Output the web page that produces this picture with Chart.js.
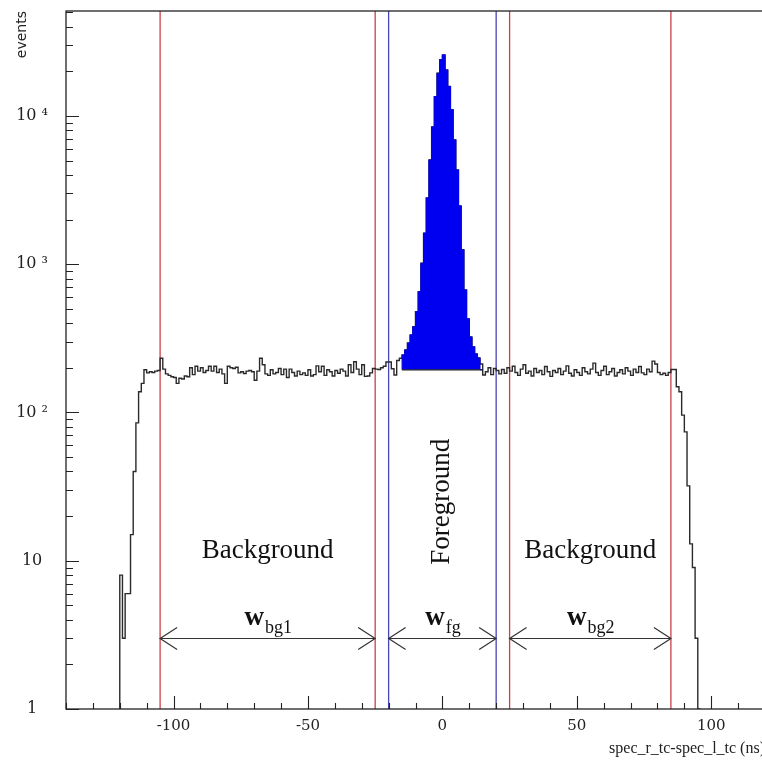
<!DOCTYPE html>
<html><head><meta charset="utf-8">
<script src="https://cdn.jsdelivr.net/npm/chart.js@4.4.1/dist/chart.umd.min.js"></script>
<style>html,body{margin:0;padding:0;background:#fff;overflow:hidden;width:762px;height:763px}canvas{display:block}</style>
</head><body>
<canvas id="c" width="770" height="763"></canvas>
<script>
// ---- data ----
const binStart = -120;   // ns, low edge of first bin
const binWidth = 1;      // ns
const counts = [
  3, 8, 3, 6, 6, 15, 40, 85, 138, 157, 194,
  185, 188, 186, 190, 192,
  232, 196, 182, 178, 174, 172, 157, 170, 168, 176,
  174, 200, 180, 205, 190, 200, 186, 192, 205, 190,
  205, 186, 196, 182, 157, 205, 200, 198, 202, 185,
  188, 183, 190, 192, 188, 165, 190, 232, 210, 182,
  178, 194, 182, 186, 198, 180, 196, 172, 196, 186,
  176, 190, 180, 185, 178, 194, 176, 180, 206, 188,
  205, 178, 194, 188, 176, 192, 184, 196, 190, 176,
  210, 186, 220, 196, 180, 210, 175, 176, 185, 198,
  196, 195, 200, 205, 219, 219, 197, 179, 224,
  232, 244, 264, 294, 333, 379, 479, 653, 1015, 1620,
  2800, 5050, 8430, 13500, 19400, 23900, 25800, 20400, 15800, 11000,
  6890, 4320, 2470, 1250, 670, 428, 323, 277, 248, 233,
  212, 179, 188, 200, 180, 198, 192, 182, 195, 184,
  200, 190, 205, 186, 178, 196, 210, 184, 190, 176,
  198, 186, 192, 180, 204, 188, 175, 192, 186, 198,
  180, 190, 206, 184, 176, 194, 186, 178, 200, 188,
  182, 196, 215, 186, 178, 192, 205, 180, 188, 198,
  176, 186, 194, 182, 200, 190, 178, 196, 186, 204,
  185, 180, 196, 188, 222, 212, 186, 180, 184, 178,
  186, 195, 195, 149, 138, 96, 74, 32, 13, 9, 3
];
const peakFirstBin = -15;   // first bin of the filled foreground peak
const peakLastBin = 14;     // last bin of the filled foreground peak
const fgBaseline = 194;     // level the blue fill starts from
const redLines = [-105, -25, 25, 85];
const blueLines = [-20, 20];
const regionFrom = [-105, -20, 25];
const regionTo = [-25, 20, 85];
const regionLabels = ['Background', 'Foreground', 'Background'];
const widthSubs = ['bg1', 'fg', 'bg2'];
const xMin = -140, xMax = 120;
const yMin = 1, yMax = 51000;
const xTickValues = [-100, -50, 0, 50, 100];
const yTickValues = [1, 10, 100, 1000, 10000];
const yTickLabels = ['1', '10', '10 \u00B2', '10 \u00B3', '10 \u2074'];
const arrowLevel = 3;        // events value at which the width arrows sit
const labelLevel = 11.6;     // events value of the "Background" labels
const fgLabelLevel = 25;     // events value of the "Foreground" label centre

// ---- build datasets ----
const histPts = [{x: binStart, y: yMin}];
counts.forEach((c, i) => histPts.push({x: binStart + i * binWidth, y: Math.max(c, yMin)}));
histPts.push({x: binStart + counts.length * binWidth, y: yMin});

const peakPts = [{x: peakFirstBin, y: fgBaseline}];
for (let b = peakFirstBin; b <= peakLastBin; b++) {
  peakPts.push({x: b, y: counts[(b - binStart) / binWidth]});
}
peakPts.push({x: peakLastBin + binWidth, y: fgBaseline});

const vline = (v, color) => ({
  data: [{x: v, y: yMin}, {x: v, y: yMax}], borderColor: color, borderWidth: 1.3,
  pointRadius: 0, fill: false
});

const INK = '#222';

const decor = {
  id: 'decor',
  afterDatasetsDraw(chart) {
    const {ctx, chartArea: a, scales: {x, y}} = chart;
    ctx.save();
    // frame
    ctx.strokeStyle = INK; ctx.lineWidth = 1.3;
    ctx.strokeRect(a.left, a.top, a.right - a.left, a.bottom - a.top);
    // inward ticks on x
    ctx.lineWidth = 1.1;
    ctx.beginPath();
    for (let v = xMin; v <= xMax; v += 10) {
      const px = Math.round(x.getPixelForValue(v)) + 0.5;
      const len = (v % 50 === 0) ? 13 : 6;
      ctx.moveTo(px, a.bottom); ctx.lineTo(px, a.bottom - len);
    }
    // inward ticks on y (log)
    for (let d = 0; d <= 4; d++) {
      for (let m = 1; m <= 9; m++) {
        const v = m * Math.pow(10, d);
        if (v > yMax) continue;
        const py = Math.round(y.getPixelForValue(v)) + 0.5;
        const len = (m === 1) ? 13 : 7;
        ctx.moveTo(a.left, py); ctx.lineTo(a.left + len, py);
      }
    }
    ctx.stroke();
    // width arrows
    const ay = Math.round(y.getPixelForValue(arrowLevel)) + 0.5;
    ctx.strokeStyle = '#333'; ctx.lineWidth = 1.2;
    regionFrom.forEach((f, i) => {
      const x1 = x.getPixelForValue(f), x2 = x.getPixelForValue(regionTo[i]);
      ctx.beginPath();
      ctx.moveTo(x1, ay); ctx.lineTo(x2, ay);
      ctx.moveTo(x1 + 17, ay - 11); ctx.lineTo(x1, ay); ctx.lineTo(x1 + 17, ay + 11);
      ctx.moveTo(x2 - 17, ay - 11); ctx.lineTo(x2, ay); ctx.lineTo(x2 - 17, ay + 11);
      ctx.stroke();
      // w label
      const mid = (x1 + x2) / 2;
      ctx.fillStyle = '#111';
      ctx.font = 'bold 27px "Liberation Serif"';
      const ww = ctx.measureText('w').width;
      ctx.font = '18px "Liberation Serif"';
      const sw = ctx.measureText(widthSubs[i]).width;
      const start = mid - (ww + sw) / 2;
      ctx.textBaseline = 'alphabetic'; ctx.textAlign = 'left';
      ctx.font = 'bold 27px "Liberation Serif"';
      ctx.fillText('w', start, ay - 14);
      ctx.font = '18px "Liberation Serif"';
      ctx.fillText(widthSubs[i], start + ww + 1, ay - 6);
    });
    // region labels
    ctx.fillStyle = '#111';
    ctx.font = '27px "Liberation Serif"';
    ctx.textAlign = 'center'; ctx.textBaseline = 'middle';
    regionFrom.forEach((f, i) => {
      const mid = (x.getPixelForValue(f) + x.getPixelForValue(regionTo[i])) / 2;
      if (regionLabels[i] === 'Foreground') {
        ctx.save();
        ctx.translate(mid, y.getPixelForValue(fgLabelLevel));
        ctx.rotate(-Math.PI / 2);
        ctx.fillText(regionLabels[i], 0, 0);
        ctx.restore();
      } else {
        ctx.fillText(regionLabels[i], mid, y.getPixelForValue(labelLevel));
      }
    });
    ctx.restore();
  }
};

new Chart(document.getElementById('c').getContext('2d'), {
  type: 'line',
  data: {
    datasets: [
      {label: 'fg base', data: [{x: peakFirstBin, y: fgBaseline}, {x: peakLastBin + binWidth, y: fgBaseline}],
       borderColor: INK, borderWidth: 1.2, pointRadius: 0, fill: false},
      {label: 'foreground', data: peakPts, stepped: 'after', borderColor: '#0000f0', borderWidth: 1,
       backgroundColor: '#0000f0', fill: {value: fgBaseline}, pointRadius: 0},
      {label: 'events', data: histPts, stepped: 'after', borderColor: '#2a2a2a', borderWidth: 1.4,
       pointRadius: 0, fill: false},
      ...redLines.map(v => vline(v, '#c8414b')),
      ...blueLines.map(v => vline(v, '#4646b4'))
    ]
  },
  options: {
    responsive: false, animation: false,
    layout: {padding: {top: 11, right: 5, left: 0, bottom: 0}},
    plugins: {legend: {display: false}, tooltip: {enabled: false}},
    scales: {
      x: {
        type: 'linear', min: xMin, max: xMax,
        grid: {display: false, drawTicks: false}, border: {display: false},
        afterBuildTicks: s => { s.ticks = xTickValues.map(v => ({value: v})); },
        afterFit: s => { s.height = 54; s.paddingLeft = 0; s.paddingRight = 0; },
        ticks: {color: INK, padding: 8, maxRotation: 0, autoSkip: false,
                font: {family: 'DejaVu Serif', size: 15}},
        title: {display: true, text: 'spec_r_tc-spec_l_tc (ns)', align: 'end', color: INK,
                font: {family: 'Liberation Serif', size: 16}, padding: {top: 0, bottom: 5}}
      },
      y: {
        type: 'logarithmic', min: yMin, max: yMax,
        grid: {display: false, drawTicks: false}, border: {display: false},
        afterBuildTicks: s => { s.ticks = yTickValues.map(v => ({value: v})); },
        afterFit: s => { s.width = 66; s.paddingTop = 0; s.paddingBottom = 0; },
        ticks: {color: INK, padding: 18, crossAlign: 'center', autoSkip: false,
                font: {family: 'DejaVu Serif', size: 16},
                callback: (v) => { const i = yTickValues.indexOf(v); return i >= 0 ? yTickLabels[i] : ''; }},
        title: {display: true, text: 'events', align: 'end', color: INK,
                font: {family: 'DejaVu Sans', size: 14}, padding: {top: 14, bottom: 0}}
      }
    }
  },
  plugins: [decor]
});
</script>
</body></html>
